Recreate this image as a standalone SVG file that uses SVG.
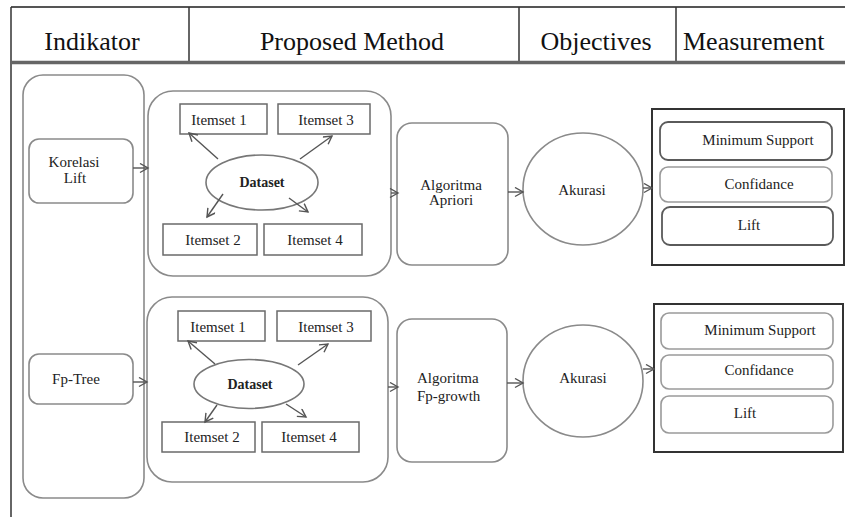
<svg xmlns="http://www.w3.org/2000/svg" width="845" height="517" viewBox="0 0 845 517">
<style>
.hdr{font-family:"Liberation Serif","Times New Roman",serif;font-size:26px;fill:#111}
.t{font-family:"Liberation Serif","Times New Roman",serif;font-size:15px;fill:#222}
.tb{font-family:"Liberation Serif","Times New Roman",serif;font-size:14px;fill:#222;font-weight:bold}
.box{fill:#fff;stroke:#8a8a8a;stroke-width:1.6}
.item{fill:#fff;stroke:#6a6a6a;stroke-width:1.5}
.outer{fill:#fff;stroke:#333;stroke-width:2}
.inDark{fill:#fff;stroke:#5a5a5a;stroke-width:1.8}
.inLight{fill:#fff;stroke:#9a9a9a;stroke-width:1.6}
.con{stroke:#555;stroke-width:1.4;fill:none}
</style>
<defs>
<marker id="ah" markerUnits="userSpaceOnUse" markerWidth="12" markerHeight="12" refX="9" refY="5" orient="auto">
<path d="M1,0.5 L9,5 L1,9.5" fill="none" stroke="#555" stroke-width="1.4"/>
</marker>
</defs>
<rect width="845" height="517" fill="#fff"/>

<g id="header">
<line x1="11" y1="7" x2="845" y2="7" stroke="#555" stroke-width="2"/>
<line x1="11" y1="7" x2="11" y2="517" stroke="#333" stroke-width="1.5"/>
<line x1="189" y1="7" x2="189" y2="62" stroke="#333" stroke-width="1.5"/>
<line x1="519" y1="7" x2="519" y2="62" stroke="#333" stroke-width="1.5"/>
<line x1="676" y1="7" x2="676" y2="62" stroke="#333" stroke-width="1.5"/>
<line x1="11" y1="62.5" x2="845" y2="62.5" stroke="#666" stroke-width="3.5"/>
<text class="hdr" x="92" y="50" text-anchor="middle">Indikator</text>
<text class="hdr" x="352" y="50" text-anchor="middle">Proposed Method</text>
<text class="hdr" x="596" y="50" text-anchor="middle">Objectives</text>
<text class="hdr" x="683" y="50">Measurement</text>
</g>

<g id="indikator-col"><rect class="box" x="23" y="75" width="121" height="423" rx="20"/></g>

<g id="korelasi-lift">
<rect class="box" x="29" y="139" width="104" height="64" rx="10"/>
<text class="t" x="74" y="167" text-anchor="middle">Korelasi</text>
<text class="t" x="75" y="183" text-anchor="middle">Lift</text>
</g>

<g id="fp-tree">
<rect class="box" x="29" y="354" width="104" height="50" rx="10"/>
<text class="t" x="76" y="384" text-anchor="middle">Fp-Tree</text>
</g>

<g id="method1">
<rect class="box" x="148" y="91" width="243" height="185" rx="25"/>
</g>
<g id="m1-itemset1"><rect class="item" x="180" y="104" width="87" height="30"/><text class="t" x="219" y="125" text-anchor="middle">Itemset 1</text></g>
<g id="m1-itemset3"><rect class="item" x="278" y="104" width="92" height="30"/><text class="t" x="326" y="125" text-anchor="middle">Itemset 3</text></g>
<g id="m1-itemset2"><rect class="item" x="163" y="224" width="94" height="31"/><text class="t" x="213" y="245" text-anchor="middle">Itemset 2</text></g>
<g id="m1-itemset4"><rect class="item" x="264" y="224" width="98" height="31"/><text class="t" x="315" y="245" text-anchor="middle">Itemset 4</text></g>
<g id="m1-dataset"><ellipse class="box" cx="262" cy="182.5" rx="56" ry="27.5" style="stroke:#777"/><text class="tb" x="262" y="187" text-anchor="middle">Dataset</text></g>

<g id="method2">
<rect class="box" x="147" y="297" width="241" height="185" rx="25"/>
</g>
<g id="m2-itemset1"><rect class="item" x="178" y="311" width="87" height="30"/><text class="t" x="218" y="332" text-anchor="middle">Itemset 1</text></g>
<g id="m2-itemset3"><rect class="item" x="277" y="311" width="94" height="30"/><text class="t" x="326" y="332" text-anchor="middle">Itemset 3</text></g>
<g id="m2-itemset2"><rect class="item" x="162" y="422" width="93" height="30"/><text class="t" x="212" y="442" text-anchor="middle">Itemset 2</text></g>
<g id="m2-itemset4"><rect class="item" x="262" y="422" width="97" height="30"/><text class="t" x="309" y="442" text-anchor="middle">Itemset 4</text></g>
<g id="m2-dataset"><ellipse class="box" cx="249" cy="384" rx="55" ry="24.5" style="stroke:#777"/><text class="tb" x="250" y="389" text-anchor="middle">Dataset</text></g>

<g id="algoritma-apriori">
<rect class="box" x="397" y="123" width="111" height="142" rx="15"/>
<text class="t" x="451" y="190" text-anchor="middle">Algoritma</text>
<text class="t" x="451" y="205" text-anchor="middle">Apriori</text>
</g>
<g id="algoritma-fpgrowth">
<rect class="box" x="397" y="319" width="110" height="143" rx="15"/>
<text class="t" x="417" y="383">Algoritma</text>
<text class="t" x="417" y="401">Fp-growth</text>
</g>

<g id="akurasi1"><ellipse class="box" cx="583" cy="189" rx="60" ry="56"/><text class="t" x="582" y="195" text-anchor="middle">Akurasi</text></g>
<g id="akurasi2"><ellipse class="box" cx="583" cy="381" rx="60" ry="56"/><text class="t" x="583" y="383" text-anchor="middle">Akurasi</text></g>

<g id="measure1">
<rect class="outer" x="652" y="109" width="192" height="156"/>
<rect class="inDark" x="660" y="122" width="172" height="38" rx="8"/>
<text class="t" x="758" y="145" text-anchor="middle">Minimum Support</text>
<rect class="inLight" x="660" y="167" width="172" height="35" rx="8"/>
<text class="t" x="759" y="189" text-anchor="middle">Confidance</text>
<rect class="inDark" x="662" y="207" width="171" height="38" rx="8"/>
<text class="t" x="749" y="230" text-anchor="middle">Lift</text>
</g>
<g id="measure2">
<rect class="outer" x="654" y="304" width="189" height="148"/>
<rect class="inLight" x="661" y="313" width="172" height="36" rx="8"/>
<text class="t" x="760" y="335" text-anchor="middle">Minimum Support</text>
<rect class="inLight" x="661" y="355" width="172" height="34" rx="8"/>
<text class="t" x="759" y="375" text-anchor="middle">Confidance</text>
<rect class="inLight" x="661" y="396" width="172" height="37" rx="8"/>
<text class="t" x="745" y="418" text-anchor="middle">Lift</text>
</g>

<g id="connectors">
<line class="con" x1="133" y1="168" x2="148" y2="168" marker-end="url(#ah)"/>
<line class="con" x1="391" y1="193" x2="398" y2="193" marker-end="url(#ah)"/>
<line class="con" x1="508" y1="192" x2="523" y2="192" marker-end="url(#ah)"/>
<line class="con" x1="643" y1="188" x2="652" y2="188" marker-end="url(#ah)"/>
<line class="con" x1="218" y1="159" x2="189" y2="133" marker-end="url(#ah)"/>
<line class="con" x1="300" y1="159" x2="332" y2="136" marker-end="url(#ah)"/>
<line class="con" x1="223" y1="194" x2="207" y2="217" marker-end="url(#ah)"/>
<line class="con" x1="289" y1="198" x2="308" y2="212" marker-end="url(#ah)"/>
<line class="con" x1="133" y1="382" x2="147" y2="382" marker-end="url(#ah)"/>
<line class="con" x1="388" y1="387" x2="398" y2="387" marker-end="url(#ah)"/>
<line class="con" x1="507" y1="383" x2="523" y2="383" marker-end="url(#ah)"/>
<line class="con" x1="643" y1="369" x2="654" y2="369" marker-end="url(#ah)"/>
<line class="con" x1="215" y1="364" x2="188" y2="341" marker-end="url(#ah)"/>
<line class="con" x1="298" y1="365" x2="328" y2="344" marker-end="url(#ah)"/>
<line class="con" x1="217" y1="405" x2="205" y2="422" marker-end="url(#ah)"/>
<line class="con" x1="286" y1="404" x2="306" y2="417" marker-end="url(#ah)"/>
</g>
</svg>
